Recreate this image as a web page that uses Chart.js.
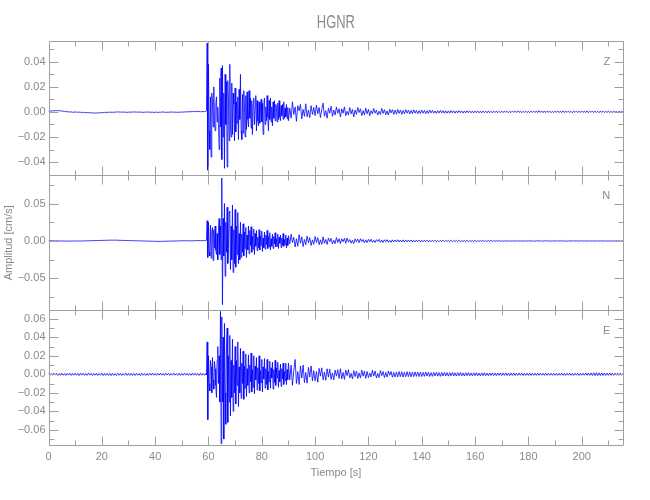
<!DOCTYPE html>
<html>
<head>
<meta charset="utf-8">
<script src="https://cdn.jsdelivr.net/npm/chart.js@4.4.1/dist/chart.umd.min.js"></script>
<style>
  html, body { margin: 0; padding: 0; background: #fff; }
  #wrap { position: relative; width: 650px; height: 500px; }
</style>
</head>
<body>
<div id="wrap"><canvas id="sismo" width="650" height="500"></canvas></div>
<script>
// Station / labels
const stationName = 'HGNR';
const channels = ['Z', 'N', 'E'];
const xTitle = 'Tiempo [s]';
const yTitle = 'Amplitud [cm/s]';

// Record pieces: pre-event, strong motion (finer sampling), coda
const segStart = [0, 59, 90];   // s
const segStep = [0.5, 0.25, 0.5]; // s
const tEnd = 215.6;
const AMP_UNIT = 1e-4; // amplitudes below are in 1e-4 cm/s

// ---- Z component ----
const zPre = [
  5, 8, 6, 10, 7, 11, 9, 12, 8, 10, 6, 7, 3, 4, 0, 2, -2, 1, -3, -1,
  -2, 0, -4, -1, -3, -5, -2, -6, -4, -7, -5, -8, -6, -9, -7, -10, -8, -9, -6, -8,
  -5, -7, -3, -6, -2, -4, -1, -3, -2, -4, 0, -2, 1, -1, -2, 0, -3, -1, -2, -4,
  -1, -3, 0, -2, 1, -1, -2, 0, -3, -1, -2, -4, -1, -3, 0, -2, -1, -3, -2, -4,
  -3, -1, -4, -2, -3, 0, -2, -1, -4, -2, -3, -1, -2, 0, -3, -1, -2, -4, -1, -3,
  0, -2, 1, -1, 2, 0, 3, 1, 4, 2, 3, 5, 2, 4, 1, 3, 2, 4
];
const zMain = [
  4, 8, 550, -465, 380, -150, -300, 120, -360, 150, 80, -120, 200, -90, -150, 60, 120, -80, 40, -100,
  -300, 270, -120, 350, -380, 370, -200, 150, -450, 300, -100, 240, -440, 250, 90, -230, 380, -120, -200, 230,
  -180, 150, 60, -230, 190, -160, 80, -90, 120, -220, 180, -60, 300, -150, -220, 140, -170, 170, 40, -200,
  130, -140, 160, -60, -120, 170, -50, 110, -130, 90, -180, 60, 110, -100, 40, 130, -150, 90, -70, -110,
  80, -90, 30, 100, -80, 70, -180, 60, 110, -100, 40, -70, 130, -40, -150, 90, -60, 110, -80, 40,
  -110, 80, -50, 90, -70, 60, 30, -80, 70, -60, 90, -40, -70, 50, -30, 60, -60, 80, -50, 30,
  -40, 60, -55, 35
];
const zCoda = [
  -70, 30, -50, 80, -20, 40, -75, 50, 10, 60, -55, 20, -35, 65, -40, 15, -45, 50, -20, 35,
  -30, 55, -15, 35, -45, 20, 70, -35, 10, -50, 30, -10, 45, -35, 15, -25, 40, -10, 25, -40,
  25, -10, 40, -30, 5, -25, 35, -15, 20, -40, 15, -20, 35, -5, 25, -30, 10, -25, 30, -15,
  20, -30, 10, -15, 28, -10, 15, -25, 5, -20, 28, -12, 18, -22, 8, -25, 22, -8, 18, -20,
  15, -18, 20, -12, 15, -20, 12, -15, 18, -10, 14, -16, 12, -14, 16, -10, 12, -15, 10, -12,
  14, -10, 12, -14, 10, -12, 15, -8, 12, -10, 8, -12, 10, -9, 12, -8, 10, -11, 9, -10,
  8, -10, 11, -7, 9, -10, 8, -8, 10, -6, 8, -9, 7, -8, 9, -6, 8, -7, 6, -8,
  7, -6, 8, -7, 6, -8, 7, -5, 6, -7, 8, -6, 5, -7, 6, -5, 7, -6, 5, -6,
  6, -5, 7, -4, 6, -6, 5, -5, 7, -4, 6, -5, 8, -4, 6, -6, 5, -4, 6, -5,
  5, -6, 7, -4, 6, -5, 8, -5, 9, -4, 7, -6, 8, -5, 6, -4, 7, -6, 5, -5,
  6, -4, 7, -5, 6, -6, 8, -5, 6, -4, 7, -5, 5, -6, 6, -4, 7, -5, 6, -5,
  7, -4, 6, -5, 8, -6, 6, -4, 7, -5, 6, -4, 5, -6, 7, -4, 6, -5, 5, -4,
  6, -5, 4, -4, 5, -3, 4, -5, 6, -4, 5, -3
];

// ---- N component ----
const nPre = [
  2, 1, 3, 2, 1, 0, 2, 1, -1, 0, 1, -1, 0, -2, -1, 0, -2, -1, 0, -1,
  0, -1, 1, 0, -1, 0, 1, 2, 1, 3, 2, 4, 3, 5, 4, 6, 5, 7, 6, 8,
  7, 9, 8, 10, 9, 11, 10, 12, 11, 10, 12, 11, 9, 10, 8, 9, 7, 8, 6, 7,
  5, 6, 4, 5, 3, 4, 2, 3, 1, 2, 0, 1, -1, 0, -2, -1, -3, -2, -4, -3,
  -5, -4, -6, -5, -4, -6, -3, -5, -2, -4, -1, -3, 0, -2, 1, -1, 2, 0, 3, 1,
  2, 4, 3, 5, 2, 4, 1, 3, 2, 4, 3, 5, 4, 6, 3, 5, 4, 6
];
const nMain = [
  5, 8, 270, -220, 250, -150, -200, 210, -230, 120, 180, -260, 150, -90, 200, -120, -180, 100, -250, 140,
  300, -180, 200, -250, 840, -850, 300, -200, 500, -470, 250, -150, 450, -300, -100, 380, 400, -380, 200, -250,
  480, -420, 150, -300, 420, -350, 200, -180, 380, -300, 100, -250, 250, -220, 90, -150, 230, -200, 120, -100,
  180, -220, 80, -120, 200, -170, 140, -60, 190, -150, 60, -110, 160, -180, 100, -70, 140, -130, 50, -90,
  150, -120, 70, -60, 130, -140, 40, -90, 120, -110, 80, -50, 140, -100, 60, -80, 110, -120, 30, -70,
  90, -100, 60, -40, 110, -80, 30, -70, 90, -100, 50, -30, 80, -90, 40, -60, 100, -70, 20, -50,
  80, -90, 40, -60
];
const nCoda = [
  70, -40, 90, -20, 50, -80, 30, -70, 85, -30, 55, -75, 20, -50, 65, -25, 45, -60, 15, -45,
  60, -20, 45, -50, 15, -45, 55, -30, 20, -45, 40, -10, 35, -40, 10, -35, 45, -20, 30, -35,
  30, -10, 35, -30, 40, -15, 20, -30, 10, -35, 28, -12, 25, -22, 30, -8, 20, -26, 15, -20,
  22, -12, 24, -18, 10, -20, 18, -6, 22, -18, 12, -20, 16, -10, 18, -16, 8, -18, 15, -12,
  14, -12, 16, -13, 12, -14, 15, -11, 12, -13, 14, -10, 12, -12, 10, -13, 12, -10, 11, -12,
  10, -11, 12, -9, 10, -11, 9, -10, 11, -8, 10, -9, 8, -10, 9, -8, 10, -9, 8, -8,
  9, -7, 8, -9, 7, -8, 9, -6, 8, -7, 6, -8, 7, -6, 8, -7, 6, -7, 7, -6,
  6, -7, 5, -6, 7, -5, 6, -6, 5, -7, 6, -5, 7, -5, 6, -6, 5, -5, 6, -5,
  5, -6, 4, -5, 6, -4, 5, -5, 4, -6, 5, -4, 6, -4, 5, -5, 4, -5, 5, -4,
  6, -4, 5, -5, 4, -5, 6, -3, 5, -4, 4, -5, 5, -4, 6, -3, 4, -5, 5, -4,
  4, -5, 5, -3, 4, -4, 5, -4, 3, -5, 4, -3, 5, -4, 4, -3, 5, -4, 3, -4,
  5, -3, 4, -4, 3, -4, 5, -3, 4, -3, 3, -4, 4, -3, 5, -3, 3, -4, 4, -3,
  3, -4, 4, -3, 3, -3, 4, -3, 3, -4, 3, -3
];

// ---- E component ----
const ePre = [
  10, -12, 8, -10, 12, -9, 11, -13, 9, -11, 12, -10, 8, -12, 10, -9, 11, -12, 9, -10,
  12, -10, 9, -13, 11, -9, 10, -12, 8, -11, 12, -9, 10, -13, 9, -10, 11, -12, 8, -10,
  11, -13, 9, -11, 10, -12, 8, -14, 10, -12, 7, -13, 9, -11, 10, -12, 8, -10, 11, -12,
  9, -11, 10, -13, 8, -12, 10, -10, 9, -13, 11, -10, 8, -12, 9, -11, 10, -9, 12, -10,
  8, -11, 10, -9, 12, -10, 9, -12, 11, -8, 10, -11, 9, -10, 12, -9, 8, -11, 10, -12,
  9, -10, 11, -9, 10, -12, 8, -10, 12, -9, 10, -11, 9, -12, 11, -10, 9, -11
];
const eMain = [
  10, -8, 350, -490, 200, -100, -180, 150, 80, -200, 180, -60, -160, 140, 60, -120, -250, 150, 300, -100,
  200, -300, 680, -750, 620, -300, 400, -700, 550, -200, -540, 300, 500, -520, 200, -300, 420, -450, 150, -250,
  380, -400, 100, -200, 300, -320, 150, -120, 350, -350, 80, -200, 280, -260, 120, -100, 250, -270, 90, -150,
  220, -240, 60, -120, 210, -200, 100, -80, 230, -190, 50, -140, 200, -210, 90, -60, 180, -170, 70, -100,
  200, -180, 40, -90, 160, -190, 80, -50, 170, -150, 60, -110, 160, -170, 30, -80, 140, -150, 70, -40,
  130, -160, 50, -90, 150, -120, 70, -40, 130, -140, 40, -80, 110, -130, 60, -50, 120, -110, 30, -70,
  120, -110, 50, -60
];
const eCoda = [
  120, -60, 100, -120, 40, 160, -100, 30, -110, 90, -40, 100, -90, 20, -95, 75, -30, 90, -70, 40,
  -70, 30, -85, 65, -20, 70, -60, 25, -65, 60, -30, 55, -55, 15, -60, 45, -20, 50, -45, 60,
  -50, 20, -55, 45, -15, 50, -40, 10, -50, 40, -25, 35, -45, 15, -40, 45, -20, 35, -45, 30,
  -35, 15, -30, 45, -20, 35, -40, 10, -35, 40, -15, 30, -35, 20, -30, 35, -10, 30, -32, 20,
  -30, 25, -28, 30, -25, 28, -30, 22, -26, 28, -24, 25, -28, 22, -25, 26, -22, 24, -25, 22,
  -24, 20, -22, 25, -20, 22, -24, 18, -22, 20, -18, 22, -20, 18, -22, 20, -18, 21, -19, 18,
  -20, 18, -17, 20, -18, 16, -19, 18, -16, 19, -17, 15, -18, 17, -15, 18, -16, 15, -17, 16,
  -15, 17, -16, 14, -17, 15, -14, 16, -15, 13, -16, 14, -13, 15, -14, 13, -15, 14, -12, 14,
  -14, 13, -12, 15, -13, 12, -14, 13, -12, 14, -13, 11, -12, 13, -11, 12, -13, 11, -12, 12,
  -12, 11, -13, 12, -11, 12, -12, 10, -11, 12, -10, 11, -12, 10, -11, 12, -10, 11, -11, 10,
  -11, 10, -12, 11, -10, 11, -11, 10, -12, 11, -10, 12, -11, 10, -12, 11, -10, 11, -12, 10,
  -11, 12, -10, 13, -11, 14, -12, 15, -13, 16, -14, 17, -15, 16, -14, 15, -13, 14, -12, 13,
  -12, 14, -11, 13, -12, 12, -10, 13, -11, 12, -10, 11
];

// Axis ranges and tick steps per panel [Z, N, E]
const yMin = [-0.0506, -0.0923, -0.0764];
const yMax = [0.057, 0.0876, 0.0693];
const yMajorStep = [0.02, 0.05, 0.02];
const yMinorStep = [0.01, 0.025, 0.01];
const xMajorStep = 20;
const xMinorStep = 10;

const AXIS_COLOR = '#a0a0a0';
const TEXT_COLOR = '#8a8a8a';
const LINE_COLOR = '#0000ff';
const FONT = "'Liberation Sans', Arial, sans-serif";
const axisIds = ['yZ', 'yN', 'yE'];

function toPoints(pieces) {
  const pts = [];
  pieces.forEach((amp, s) => {
    amp.forEach((v, i) => pts.push({ x: segStart[s] + i * segStep[s], y: v * AMP_UNIT }));
  });
  return pts;
}

function fmtY(v) {
  const s = Math.abs(v) < 1e-9 ? '0.00' : v.toFixed(2);
  return s.replace('-', '\u2212');
}

// frame, inward ticks and titles
const framePlugin = {
  id: 'frame',
  afterDraw(chart) {
    const ctx = chart.ctx;
    const area = chart.chartArea;
    const xs = chart.scales.x;
    const L = Math.round(area.left) + 0.5;
    const R = Math.round(area.right) + 0.5;
    ctx.save();
    ctx.strokeStyle = AXIS_COLOR;
    ctx.lineWidth = 1;
    ctx.beginPath();
    axisIds.forEach((id, k) => {
      const s = chart.scales[id];
      const top = Math.round(s.top) + 0.5;
      const bot = Math.round(s.bottom) + 0.5;
      // frame sides
      ctx.moveTo(L, top); ctx.lineTo(R, top);
      ctx.moveTo(L, bot); ctx.lineTo(R, bot);
      ctx.moveTo(L, top); ctx.lineTo(L, bot);
      ctx.moveTo(R, top); ctx.lineTo(R, bot);
      // y ticks on both sides
      const first = Math.ceil(s.min / yMinorStep[k] - 1e-6);
      const last = Math.floor(s.max / yMinorStep[k] + 1e-6);
      for (let j = first; j <= last; j++) {
        const v = j * yMinorStep[k];
        const r = v / yMajorStep[k];
        const len = Math.abs(r - Math.round(r)) < 1e-6 ? 9 : 5;
        const py = Math.round(s.getPixelForValue(v)) + 0.5;
        ctx.moveTo(L, py); ctx.lineTo(L + len, py);
        ctx.moveTo(R, py); ctx.lineTo(R - len, py);
      }
      // x ticks on top and bottom of every panel
      for (let v = 0; v <= xs.max + 1e-6; v += xMinorStep) {
        const len = (v % xMajorStep === 0) ? 9 : 5;
        const px = Math.round(xs.getPixelForValue(v)) + 0.5;
        ctx.moveTo(px, top); ctx.lineTo(px, top + len);
        ctx.moveTo(px, bot); ctx.lineTo(px, bot - len);
      }
    });
    ctx.stroke();

    ctx.fillStyle = TEXT_COLOR;
    ctx.textBaseline = 'middle';
    // channel letters
    ctx.font = '11px ' + FONT;
    ctx.textAlign = 'right';
    axisIds.forEach((id, k) => {
      ctx.fillText(channels[k], area.right - 13, chart.scales[id].top + 21);
    });
    // station title (narrow Hershey-like look)
    ctx.textAlign = 'center';
    ctx.save();
    ctx.translate((area.left + area.right) / 2, area.top - 17);
    ctx.scale(0.72, 1);
    ctx.font = '18px ' + FONT;
    ctx.fillText(stationName, 0, 0);
    ctx.restore();
    // axis titles
    ctx.font = '11px ' + FONT;
    ctx.fillText(xTitle, (area.left + area.right) / 2, area.bottom + 28);
    ctx.save();
    ctx.translate(9, (area.top + area.bottom) / 2);
    ctx.rotate(-Math.PI / 2);
    ctx.fillText(yTitle, 0, 0);
    ctx.restore();
    ctx.restore();
  }
};

function yScale(k) {
  return {
    type: 'linear',
    position: 'left',
    stack: 'panels',
    stackWeight: 1,
    min: yMin[k],
    max: yMax[k],
    grid: { display: false, drawTicks: false },
    border: { display: false },
    ticks: {
      stepSize: yMajorStep[k],
      includeBounds: false,
      autoSkip: false,
      padding: 3,
      color: TEXT_COLOR,
      font: { family: FONT, size: 11 },
      callback: v => fmtY(v)
    },
    afterFit: s => { s.width = 48.5; }
  };
}

const datasets = [[zPre, zMain, zCoda], [nPre, nMain, nCoda], [ePre, eMain, eCoda]].map((pieces, k) => ({
  label: channels[k],
  data: toPoints(pieces),
  yAxisID: axisIds[k],
  borderColor: LINE_COLOR,
  borderWidth: 0.8,
  pointRadius: 0,
  tension: 0,
  fill: false
}));

new Chart(document.getElementById('sismo'), {
  type: 'line',
  data: { datasets: datasets },
  options: {
    responsive: false,
    animation: false,
    parsing: false,
    normalized: true,
    layout: { padding: { top: 40.5, right: 26.7, left: 0, bottom: 0 } },
    plugins: {
      legend: { display: false },
      tooltip: { enabled: false }
    },
    scales: {
      x: {
        type: 'linear',
        min: 0,
        max: tEnd,
        grid: { display: false, drawTicks: false },
        border: { display: false },
        ticks: {
          stepSize: xMajorStep,
          includeBounds: false,
          autoSkip: false,
          padding: 5,
          maxRotation: 0,
          color: TEXT_COLOR,
          font: { family: FONT, size: 11 },
          callback: v => String(v)
        },
        afterFit: s => { s.height = 55; }
      },
      yE: yScale(2),
      yN: yScale(1),
      yZ: yScale(0)
    }
  },
  plugins: [framePlugin]
});
</script>
</body>
</html>
